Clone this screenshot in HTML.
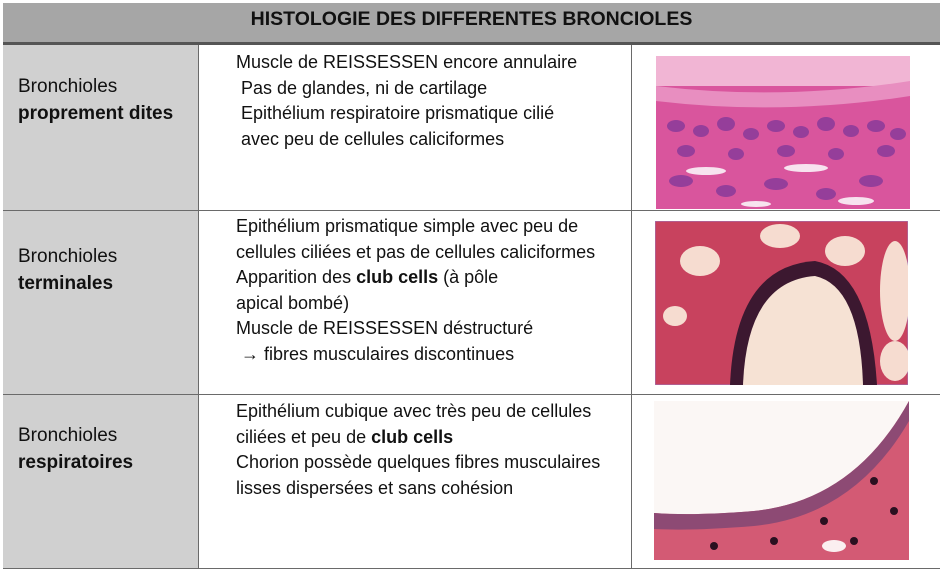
<!DOCTYPE html>
<html><head><meta charset="utf-8"><style>
body{margin:0;width:940px;height:572px;background:#fff;position:relative;overflow:hidden;font-family:"Liberation Sans",sans-serif;color:#111}
.a{position:absolute}
.t{font-size:18px;line-height:25.6px;white-space:nowrap}
.lb{font-size:19px;line-height:27px;white-space:nowrap}
.h{background:#a6a6a6}
.left{background:#d0d0d0}
.ln{background:#6a6a6a}
</style></head><body>
<div class="a h" style="left:3px;top:3px;width:937px;height:39px"></div>
<div class="a" style="left:3px;top:8px;width:937px;text-align:center;font-weight:bold;font-size:19.5px">HISTOLOGIE DES DIFFERENTES BRONCIOLES</div>
<div class="a" style="left:3px;top:42px;width:937px;height:3px;background:#555"></div>
<div class="a left" style="left:3px;top:45px;width:195px;height:523px"></div>
<div class="a ln" style="left:198px;top:45px;width:1px;height:523px"></div>
<div class="a ln" style="left:631px;top:45px;width:1px;height:523px"></div>
<div class="a ln" style="left:3px;top:210px;width:937px;height:1px"></div>
<div class="a ln" style="left:3px;top:394px;width:937px;height:1px"></div>
<div class="a ln" style="left:3px;top:568px;width:937px;height:1px"></div>

<div class="a lb" style="left:18px;top:73px">Bronchioles<br><b>proprement dites</b></div>
<div class="a t" style="left:236px;top:50px">Muscle de REISSESSEN encore annulaire<br>&nbsp;Pas de glandes, ni de cartilage<br>&nbsp;Epithélium respiratoire prismatique cilié<br>&nbsp;avec peu de cellules caliciformes</div>
<div class="a lb" style="left:18px;top:243px">Bronchioles<br><b>terminales</b></div>
<div class="a t" style="left:236px;top:214px">Epithélium prismatique simple avec peu de<br>cellules ciliées et pas de cellules caliciformes<br>Apparition des <b>club cells</b> (à pôle<br>apical bombé)<br>Muscle de REISSESSEN déstructuré<br>&nbsp;→ fibres musculaires discontinues</div>
<div class="a lb" style="left:18px;top:422px">Bronchioles<br><b>respiratoires</b></div>
<div class="a t" style="left:236px;top:399px">Epithélium cubique avec très peu de cellules<br>ciliées et peu de <b>club cells</b><br>Chorion possède quelques fibres musculaires<br>lisses dispersées et sans cohésion</div>

<svg class="a" style="left:656px;top:56px" width="254" height="153">
<rect width="254" height="153" fill="#d9559d"/>
<rect width="254" height="30" fill="#f1b5d4"/>
<path d="M0 30 Q127 45 254 25 L254 40 Q127 60 0 45Z" fill="#e88ec0"/>
<g fill="#8a3a9a" opacity=".85">
<ellipse cx="20" cy="70" rx="9" ry="6"/><ellipse cx="45" cy="75" rx="8" ry="6"/><ellipse cx="70" cy="68" rx="9" ry="7"/><ellipse cx="95" cy="78" rx="8" ry="6"/><ellipse cx="120" cy="70" rx="9" ry="6"/><ellipse cx="145" cy="76" rx="8" ry="6"/><ellipse cx="170" cy="68" rx="9" ry="7"/><ellipse cx="195" cy="75" rx="8" ry="6"/><ellipse cx="220" cy="70" rx="9" ry="6"/><ellipse cx="242" cy="78" rx="8" ry="6"/>
<ellipse cx="30" cy="95" rx="9" ry="6"/><ellipse cx="80" cy="98" rx="8" ry="6"/><ellipse cx="130" cy="95" rx="9" ry="6"/><ellipse cx="180" cy="98" rx="8" ry="6"/><ellipse cx="230" cy="95" rx="9" ry="6"/>
<ellipse cx="25" cy="125" rx="12" ry="6"/><ellipse cx="70" cy="135" rx="10" ry="6"/><ellipse cx="120" cy="128" rx="12" ry="6"/><ellipse cx="170" cy="138" rx="10" ry="6"/><ellipse cx="215" cy="125" rx="12" ry="6"/></g>
<g fill="#f7e3ef"><ellipse cx="50" cy="115" rx="20" ry="4"/><ellipse cx="150" cy="112" rx="22" ry="4"/><ellipse cx="200" cy="145" rx="18" ry="4"/><ellipse cx="100" cy="148" rx="15" ry="3"/></g>
</svg>

<svg class="a" style="left:655px;top:221px" width="253" height="164">
<rect width="253" height="164" fill="#c8425e" stroke="#9a7bc0"/>
<g fill="#f6dcd0"><ellipse cx="45" cy="40" rx="20" ry="15"/><ellipse cx="125" cy="15" rx="20" ry="12"/><ellipse cx="190" cy="30" rx="20" ry="15"/><ellipse cx="240" cy="70" rx="15" ry="50"/><ellipse cx="240" cy="140" rx="15" ry="20"/><ellipse cx="20" cy="95" rx="12" ry="10"/></g>
<path d="M75 164 Q80 45 160 40 Q215 50 222 164Z" fill="#3c1830"/>
<path d="M88 164 Q92 60 160 55 Q205 65 208 164Z" fill="#f6e2d4"/>
</svg>

<svg class="a" style="left:654px;top:401px" width="255" height="159">
<rect width="255" height="159" fill="#d35a74"/>
<path d="M0 0 H255 V0 Q200 100 100 110 Q40 115 0 112Z" fill="#fbf7f5"/>
<path d="M0 112 Q40 115 100 110 Q200 100 255 0 V20 Q200 115 100 125 Q40 130 0 128Z" fill="#8d4a74"/>
<g fill="#2a1020"><circle cx="120" cy="140" r="4"/><circle cx="170" cy="120" r="4"/><circle cx="220" cy="80" r="4"/><circle cx="60" cy="145" r="4"/><circle cx="240" cy="110" r="4"/><circle cx="200" cy="140" r="4"/></g>
<ellipse cx="180" cy="145" rx="12" ry="6" fill="#fbeff0"/>
</svg>
</body></html>
